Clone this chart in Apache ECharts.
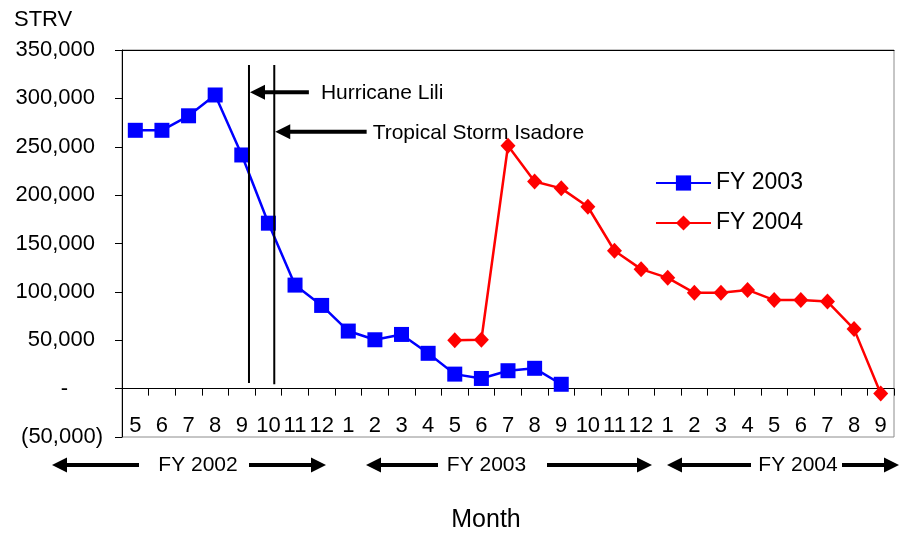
<!DOCTYPE html>
<html><head><meta charset="utf-8">
<script src="https://cdn.jsdelivr.net/npm/echarts@6/dist/echarts.min.js"></script>
<style>html,body{margin:0;padding:0;background:#fff}#c{width:900px;height:535px}</style>
</head><body><div id="c"></div>
<script>
// ---- data ----
const months = ['5','6','7','8','9','10','11','12','1','2','3','4','5','6','7','8','9','10','11','12','1','2','3','4','5','6','7','8','9'];
const fy2003 = [267000, 267000, 282000, 303500, 241500, 171000, 107000, 86000, 59500, 50500, 56000, 36500, 15000, 10500, 18500, 21000, 4500,
  null, null, null, null, null, null, null, null, null, null, null, null];
const fy2004 = [null, null, null, null, null, null, null, null, null, null, null, null,
  50000, 50500, 251000, 214000, 207000, 188000, 142500, 123500, 114500, 99000, 99000, 102000, 91500, 91500, 90000, 61500, -5000];
const seriesNames = ['FY 2003', 'FY 2004'];
const yMin = -50000, yMax = 350000, yStep = 50000;
const fiscalYears = ['FY 2002', 'FY 2003', 'FY 2004'];
// event annotations (position along the month axis, 0..29 units)
const eventNames = ['Hurricane Lili', 'Tropical Storm Isadore'];
const eventPos = [4.77, 5.72];
const eventTop = [334500, 334500];
const eventBottom = [5800, 4400];
const eventArrowY = [306300, 265500];
const eventArrowTail = [7.02, 9.19];

const FONT = '"Liberation Sans", Arial, sans-serif';
const fmt = v => v.toString().replace(/\B(?=(\d{3})+(?!\d))/g, ',');

const GRID = { left: 122, right: 6, top: 50, bottom: 98 };
const plotH = 535 - GRID.top - GRID.bottom;
const zeroOffset = -plotH * (0 - yMin) / (yMax - yMin); // move category axis up to y = 0

const option = {
  animation: false,
  backgroundColor: '#fff',
  grid: Object.assign({ show: true, borderColor: '#8c8c8c', borderWidth: 1, containLabel: false }, GRID),
  legend: {
    data: seriesNames, orient: 'vertical', left: 655, top: 171, padding: 0,
    itemWidth: 55, itemHeight: 19, itemGap: 16,
    textStyle: { fontSize: 23, color: '#000', fontFamily: FONT, lineHeight: 24 }
  },
  xAxis: [{
    type: 'category', data: months, boundaryGap: true, position: 'bottom', offset: zeroOffset,
    axisLine: { onZero: false, lineStyle: { color: '#000', width: 1 } },
    axisTick: { show: true, length: 7, inside: false, lineStyle: { color: '#000' } },
    axisLabel: { interval: 0, margin: 26, fontSize: 22, color: '#000', fontFamily: FONT },
    splitLine: { show: false }
  }, {
    type: 'value', min: 0, max: 29, position: 'top', show: true,
    axisLine: { show: true, onZero: false, lineStyle: { color: '#000', width: 1 } },
    axisTick: { show: false }, axisLabel: { show: false }, splitLine: { show: false }
  }],
  yAxis: {
    type: 'value', min: yMin, max: yMax, interval: yStep,
    axisLine: { show: true, onZero: false, lineStyle: { color: '#000', width: 1 } },
    axisTick: { show: true, length: 7, inside: false, lineStyle: { color: '#000' } },
    splitLine: { show: false },
    axisLabel: {
      margin: 19, align: 'right', fontSize: 22, color: '#000', fontFamily: FONT,
      formatter: v => v === 0 ? '{z|-}' : (v < 0 ? '{n|(' + fmt(-v) + ')}' : '{p|' + fmt(v) + '}'),
      rich: {
        p: { fontSize: 22, fontFamily: FONT, color: '#000', padding: [0, 8, 0, 0] },
        n: { fontSize: 22, fontFamily: FONT, color: '#000' },
        z: { fontSize: 22, fontFamily: FONT, color: '#000', padding: [0, 35, 0, 0] }
      }
    }
  },
  series: [{
    name: seriesNames[0], type: 'line', data: fy2003, xAxisIndex: 0,
    symbol: 'rect', symbolSize: 15, connectNulls: false,
    lineStyle: { color: '#0000ff', width: 2.5 }, itemStyle: { color: '#0000ff' }
  }, {
    name: seriesNames[1], type: 'line', data: fy2004, xAxisIndex: 0,
    symbol: 'diamond', symbolSize: [15, 16], connectNulls: false,
    lineStyle: { color: '#ff0000', width: 2.5 }, itemStyle: { color: '#ff0000' }
  }]
};

const chart = echarts.init(document.getElementById('c'));
chart.setOption(option);

const px = (x, y) => chart.convertToPixel({ xAxisIndex: 1, yAxisIndex: 0 }, [x, y]);
const g = [];
function arrow(tipX, tailX, y, w, hl, hh) {
  const d = tipX < tailX ? 1 : -1;
  g.push({ type: 'line', shape: { x1: tailX, y1: y, x2: tipX + d * (hl - 2), y2: y }, style: { stroke: '#000', lineWidth: w }, z: 100 });
  g.push({ type: 'polygon', shape: { points: [[tipX, y], [tipX + d * hl, y - hh / 2], [tipX + d * hl, y + hh / 2]] }, style: { fill: '#000' }, z: 100 });
}
const labelGap = [12, 6];
for (let i = 0; i < eventNames.length; i++) {
  const a = px(eventPos[i], eventTop[i]), b = px(eventPos[i], eventBottom[i]);
  g.push({ type: 'line', shape: { x1: a[0], y1: a[1], x2: b[0], y2: b[1] }, style: { stroke: '#000', lineWidth: 2 }, z: 100 });
  const t = px(eventPos[i], eventArrowY[i]), e = px(eventArrowTail[i], eventArrowY[i]);
  arrow(t[0] + 1, e[0], t[1], 4, 15, 15);
  g.push({ type: 'text', x: e[0] + labelGap[i], y: t[1] + 1, style: { text: eventNames[i], font: '21px ' + FONT, fill: '#000', textAlign: 'left', textVerticalAlign: 'middle' }, z: 100 });
}
// fiscal year arrows below the axis
const fyText = [198, 486.5, 798];
const fyArrows = [[52, 139, 249, 326], [366, 438, 547, 652], [667, 751, 842, 899]];
for (let i = 0; i < 3; i++) {
  const [lt, ltail, rtail, rt] = fyArrows[i];
  arrow(lt, ltail, 465, 4, 15, 15);
  arrow(rt, rtail, 465, 4, 15, 15);
  g.push({ type: 'text', x: fyText[i], y: 465, style: { text: fiscalYears[i], font: '21px ' + FONT, fill: '#000', textAlign: 'center', textVerticalAlign: 'middle' }, z: 100 });
}
g.push({ type: 'text', x: 486, y: 520, style: { text: 'Month', font: '25px ' + FONT, fill: '#000', textAlign: 'center', textVerticalAlign: 'middle' }, z: 100 });
g.push({ type: 'text', x: 14, y: 20, style: { text: 'STRV', font: '22px ' + FONT, fill: '#000', textAlign: 'left', textVerticalAlign: 'middle' }, z: 100 });
chart.setOption({ graphic: g });
</script>
</body></html>
